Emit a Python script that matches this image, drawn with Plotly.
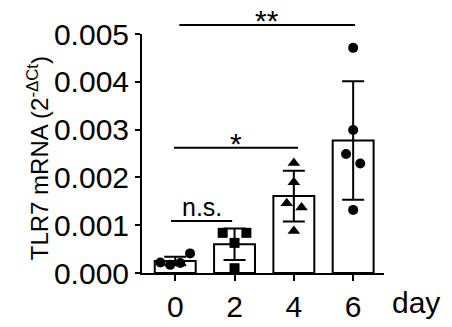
import plotly.graph_objects as go

# ---- data ----
days = ["0", "2", "4", "6"]
means = [0.00025, 0.00060, 0.00161, 0.00277]
sds = [0.00009, 0.00033, 0.00053, 0.00124]

pts_day0 = [0.00022, 0.00017, 0.00021, 0.00041]
pts_day2 = [0.00084, 0.00084, 0.00063, 0.00010]
pts_day4 = [0.00230, 0.00190, 0.00146, 0.00137, 0.00088]
pts_day6 = [0.00471, 0.00299, 0.00249, 0.00229, 0.00132]
points = [pts_day0, pts_day2, pts_day4, pts_day6]
jitter = [[-0.25, -0.085, 0.085, 0.25],
          [-0.2, 0.2, 0.0, 0.0],
          [0.0, 0.0, -0.12, 0.13, 0.0],
          [0.0, 0.0, -0.12, 0.12, 0.0]]
symbols = ["circle", "square", "triangle-up", "circle"]

# significance brackets: (from idx, to idx, height, label)
sig_from = [0.07, -0.02, -0.07]
sig_to = [3.03, 2.07, 0.96]
sig_y = [0.00519, 0.00262, 0.00109]
sig_text = ["**", "*", "n.s."]

YMAX = 0.005
FONT = "Liberation Sans, Arial, sans-serif"

fig = go.Figure()
xs = list(range(len(days)))
fig.add_trace(go.Bar(
    x=xs, y=means, width=0.69,
    marker=dict(color="white", line=dict(color="black", width=2)),
    error_y=dict(type="data", array=sds, visible=True, color="black",
                 thickness=2, width=11),
    showlegend=False,
))
for i, (p, j, s) in enumerate(zip(points, jitter, symbols)):
    fig.add_trace(go.Scatter(
        x=[i + d for d in j], y=p, mode="markers",
        marker=dict(symbol=s, size=10 if s != "triangle-up" else 11,
                    color="black", line=dict(width=0)),
        showlegend=False, cliponaxis=False,
    ))

shapes = []
annotations = []
for a, b, h, t in zip(sig_from, sig_to, sig_y, sig_text):
    shapes.append(dict(type="line", xref="x", yref="paper", x0=a, x1=b,
                       y0=h / YMAX, y1=h / YMAX,
                       line=dict(color="black", width=2)))
    if t == "n.s.":
        annotations.append(dict(xref="x", yref="paper", x=(a + b) / 2,
                                y=h / YMAX, text=t, showarrow=False,
                                yanchor="bottom", yshift=-2,
                                font=dict(family=FONT, size=25, color="black")))
    else:
        annotations.append(dict(xref="x", yref="paper", x=(a + b) / 2,
                                y=h / YMAX, text=t, showarrow=False,
                                yanchor="bottom", yshift=-14,
                                font=dict(family=FONT, size=30, color="black")))

annotations.append(dict(xref="paper", yref="paper", x=(38 - 142) / 242,
                        y=0.48, text="TLR7 mRNA (2<sup>-ΔCt</sup>)",
                        textangle=-90, showarrow=False,
                        xanchor="center", yanchor="middle",
                        font=dict(family=FONT, size=24, color="black")))
annotations.append(dict(xref="paper", yref="paper", x=(416 - 142) / 242,
                        y=-(302 - 273) / 239, text="day", showarrow=False,
                        xanchor="center", yanchor="middle",
                        font=dict(family=FONT, size=30, color="black")))

fig.update_layout(
    template="none",
    width=452, height=327,
    margin=dict(l=142, r=68, t=34, b=54, autoexpand=False),
    paper_bgcolor="white", plot_bgcolor="white",
    font=dict(family=FONT, size=30, color="black"),
    shapes=shapes, annotations=annotations,
    xaxis=dict(range=[-0.56, 3.52], tickvals=xs, ticktext=days,
               automargin=False,
               showline=True, linecolor="black", linewidth=2,
               ticks="outside", ticklen=6, tickwidth=2, tickcolor="black",
               showgrid=False, zeroline=False,
               tickfont=dict(family=FONT, size=30, color="black")),
    yaxis=dict(range=[0, YMAX], tickvals=[0, 0.001, 0.002, 0.003, 0.004, 0.005],
               tickformat=".3f", automargin=False,
               showline=True, linecolor="black", linewidth=2,
               ticks="outside", ticklen=5, tickwidth=2, tickcolor="black",
               showgrid=False, zeroline=False,
               tickfont=dict(family=FONT, size=30, color="black")),
)
fig.write_html("out.html", config={"displayModeBar": False},
               post_script="document.body.style.margin='0';document.body.style.overflow='hidden';")
